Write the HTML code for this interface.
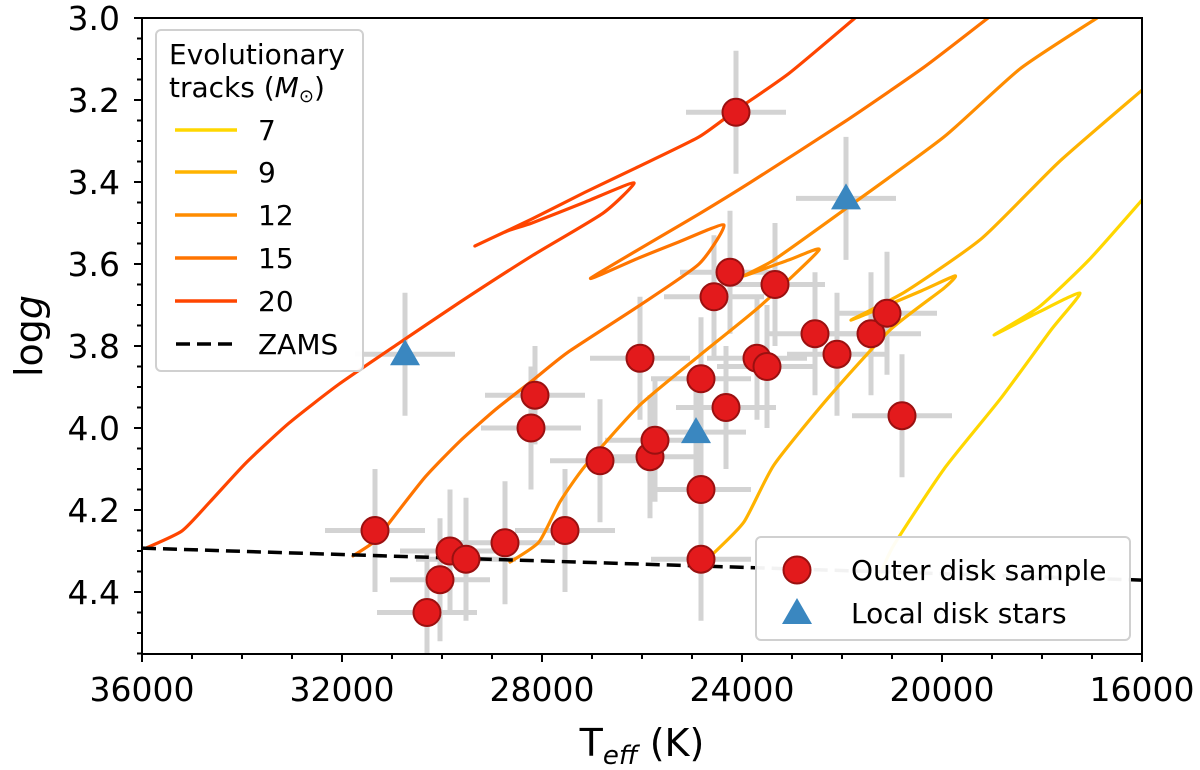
<!DOCTYPE html>
<html><head><meta charset="utf-8"><style>
body{margin:0;background:#fff;}
svg text{font-family:"DejaVu Sans","Liberation Sans",sans-serif;}
</style></head><body>
<svg id="chart" width="1200" height="765" xmlns="http://www.w3.org/2000/svg"></svg>
<script>
// ---- data ----
const xTicks = [36000, 32000, 28000, 24000, 20000, 16000];
const yTicks = [3.0, 3.2, 3.4, 3.6, 3.8, 4.0, 4.2, 4.4];
const trackMasses = ["7", "9", "12", "15", "20"];
const trackColors = ["#ffd700", "#ffb300", "#ff8c00", "#ff7400", "#ff4500"];
const track7T = [21260,20960,19960,18820,17820,17240,18060,18960,18060,17060,16000];
const track7G = [4.363,4.285,4.100,3.927,3.761,3.671,3.717,3.773,3.705,3.590,3.444];
const track9T = [24580,23960,23360,22280,21040,19960,19740,20460,21820,20740,19200,17660,16000];
const track9G = [4.307,4.229,4.090,3.927,3.761,3.659,3.629,3.668,3.737,3.668,3.537,3.351,3.176];
const track12T = [28640,28060,27640,27140,26060,24860,23660,22460,23060,23960,23360,21900,19960,18440,16900];
const track12G = [4.327,4.278,4.180,4.093,3.946,3.824,3.705,3.566,3.590,3.629,3.590,3.463,3.290,3.124,3.000];
const track15T = [31780,31340,31060,30340,29640,28920,28200,27480,26060,24860,24360,25260,26060,27020,24860,23820,21960,20360,19080];
const track15G = [4.312,4.276,4.232,4.120,4.032,3.954,3.885,3.815,3.702,3.600,3.505,3.546,3.585,3.634,3.478,3.400,3.254,3.120,3.000];
const track20T = [35920,35200,34640,33920,33060,32060,30920,29640,28200,26780,26160,27140,28200,28700,29340,28200,27140,26060,24860,24120,23060,21740];
const track20G = [4.293,4.251,4.180,4.085,3.988,3.893,3.798,3.693,3.580,3.476,3.402,3.449,3.500,3.520,3.556,3.490,3.425,3.362,3.290,3.225,3.135,3.000];
const zamsT = [36000, 16000];
const zamsG = [4.293, 4.371];
const outerT = [31340,30300,30040,29840,29520,28740,28140,28220,27540,26840,26040,25840,25740,24820,24820,24820,24560,24320,24240,24120,23700,23500,23340,22540,22100,21420,21100,20800];
const outerG = [4.25,4.45,4.37,4.30,4.32,4.28,3.92,4.00,4.25,4.08,3.83,4.07,4.03,3.88,4.15,4.32,3.68,3.95,3.62,3.23,3.83,3.85,3.65,3.77,3.82,3.77,3.72,3.97];
const outerTerr = [1000,1000,1000,1000,1000,1000,1000,1000,1000,1000,1000,1000,1000,1000,1000,1000,1000,1000,1000,1000,1000,1000,1000,1000,1000,1000,1000,1000];
const outerGerr = [0.15,0.15,0.15,0.15,0.15,0.15,0.12,0.15,0.15,0.15,0.15,0.15,0.15,0.15,0.15,0.15,0.15,0.15,0.15,0.15,0.15,0.15,0.15,0.15,0.15,0.15,0.15,0.15];
const localT = [30740, 24920, 21920];
const localG = [3.82, 4.01, 3.44];
const localTerr = [1000, 1000, 1000];
const localGerr = [0.15, 0.15, 0.15];

// ---- axes ----
const L=142, R=1142, T=18, B=654;
const X0=36000, X1=16000, Y0=3.0, Y1=4.5512;
const sx = v => L + (X0 - v) / (X0 - X1) * (R - L);
const sy = v => T + (v - Y0) / (Y1 - Y0) * (B - T);
const NS="http://www.w3.org/2000/svg";
const svg=document.getElementById('chart');
function mk(tag, attrs, parent){const e=document.createElementNS(NS,tag);for(const k in attrs)e.setAttribute(k,attrs[k]);(parent||svg).appendChild(e);return e;}

const clip=mk('clipPath',{id:'pc'});mk('rect',{x:L,y:T,width:R-L,height:B-T},clip);
const plot=mk('g',{'clip-path':'url(#pc)'});



function errbars(Ts,Gs,Te,Ge,name){
  for(let i=0;i<Ts.length;i++){
    const g=mk('g',{},plot);
    
    
    mk('line',{x1:sx(Ts[i]-Te[i]),x2:sx(Ts[i]+Te[i]),y1:sy(Gs[i]),y2:sy(Gs[i]),stroke:'#d3d3d3','stroke-width':5},g);
    mk('line',{x1:sx(Ts[i]),x2:sx(Ts[i]),y1:sy(Gs[i]-Ge[i]),y2:sy(Gs[i]+Ge[i]),stroke:'#d3d3d3','stroke-width':5},g);
  }
}
errbars(outerT,outerG,outerTerr,outerGerr,'outer-disk');
errbars(localT,localG,localTerr,localGerr,'local-disk');

const tracksT=[track7T,track9T,track12T,track15T,track20T];
const tracksG=[track7G,track9G,track12G,track15G,track20G];
function smoothPath(pts){
  let d=`M${pts[0][0]},${pts[0][1]}`;
  const f=10;
  for(let i=0;i<pts.length-1;i++){
    const p0=pts[Math.max(0,i-1)],p1=pts[i],p2=pts[i+1],p3=pts[Math.min(pts.length-1,i+2)];
    const c1=[p1[0]+(p2[0]-p0[0])/f,p1[1]+(p2[1]-p0[1])/f];
    const c2=[p2[0]-(p3[0]-p1[0])/f,p2[1]-(p3[1]-p1[1])/f];
    d+=` C${c1[0]},${c1[1]} ${c2[0]},${c2[1]} ${p2[0]},${p2[1]}`;
  }
  return d;
}
for(let k=0;k<tracksT.length;k++){
  const pts=tracksT[k].map((t,i)=>[sx(t),sy(tracksG[k][i])]);
  const p=mk('path',{d:smoothPath(pts),fill:'none',stroke:trackColors[k],'stroke-width':3.2,'stroke-linejoin':'round','stroke-linecap':'round'},plot);
  
  
}
const z=mk('line',{x1:sx(zamsT[0]),y1:sy(zamsG[0]),x2:sx(zamsT[1]),y2:sy(zamsG[1]),stroke:'#000','stroke-width':3.5,'stroke-dasharray':'14,7'},plot);



for(let i=0;i<outerT.length;i++){
  const c=mk('circle',{cx:sx(outerT[i]),cy:sy(outerG[i]),r:13.5,fill:'#e31a1c',stroke:'#9a1010','stroke-width':2},plot);
  
  
}
for(let i=0;i<localT.length;i++){
  const x=sx(localT[i]),y=sy(localG[i]);
  const t=mk('polygon',{points:`${x},${y-15} ${x-15},${y+11} ${x+15},${y+11}`,fill:'#3a87c0'},plot);
  
  
}

const fr=mk('rect',{x:L,y:T,width:R-L,height:B-T,fill:'none',stroke:'#000','stroke-width':2});


for(let v=16000;v<=36000;v+=1000){
  const major=(v%4000===0);
  mk('line',{x1:sx(v),x2:sx(v),y1:B,y2:B+(major?8:5),stroke:'#000','stroke-width':2});
}
xTicks.forEach(v=>{
  const t=mk('text',{x:sx(v),y:B+47,'font-size':33,'text-anchor':'middle'});
  t.textContent=v;
  
  
});
for(let i=0;i<=31;i++){
  const v=3.0+i*0.05; if(v>Y1)break;
  const major=(i%4===0);
  mk('line',{x1:L,x2:L-(major?8:5),y1:sy(v),y2:sy(v),stroke:'#000','stroke-width':2});
}
yTicks.forEach(v=>{
  const t=mk('text',{x:L-22,y:sy(v)+12,'font-size':33,'text-anchor':'end'});
  t.textContent=v.toFixed(1);
  
  
});
const xl=mk('text',{x:642,y:756,'font-size':38,'text-anchor':'middle'});
xl.innerHTML='T<tspan font-size="26" dy="8" font-style="italic">eff</tspan><tspan dy="-8"> (K)</tspan>';


const yl=mk('text',{x:0,y:0,'font-size':38,'text-anchor':'middle',transform:'translate(42,336) rotate(-90)'});
yl.innerHTML='log<tspan font-style="italic">g</tspan>';



const lg=mk('g',{});


mk('rect',{x:156,y:30,width:207,height:341,rx:5,fill:'#fff','fill-opacity':0.95,stroke:'#d0d0d0','stroke-width':2},lg);
const t1=mk('text',{x:169,y:64,'font-size':28},lg);t1.textContent='Evolutionary';
const t2=mk('text',{x:169,y:97,'font-size':28},lg);t2.innerHTML='tracks (<tspan font-style="italic">M</tspan><tspan font-size="18" dy="5">⊙</tspan><tspan dy="-5">)</tspan>';
const ly=[130,172,215,258,301];
for(let k=0;k<5;k++){
  const e=mk('g',{},lg);
  
  
  mk('line',{x1:175,x2:237,y1:ly[k],y2:ly[k],stroke:trackColors[k],'stroke-width':3.5},e);
  const tt=mk('text',{x:258,y:ly[k]+10,'font-size':28},e);tt.textContent=trackMasses[k];
}
const ez=mk('g',{},lg);


mk('line',{x1:176,x2:237,y1:344,y2:344,stroke:'#000','stroke-width':3.5,'stroke-dasharray':'14,7'},ez);
const tz=mk('text',{x:258,y:354,'font-size':28},ez);tz.textContent='ZAMS';

const lg2=mk('g',{});


mk('rect',{x:756,y:537,width:374,height:103,rx:5,fill:'#fff','fill-opacity':0.95,stroke:'#d0d0d0','stroke-width':2},lg2);
mk('circle',{cx:797,cy:570,r:13.5,fill:'#e31a1c',stroke:'#9a1010','stroke-width':2},lg2);
const o=mk('text',{x:851,y:580,'font-size':28},lg2);o.textContent='Outer disk sample';
mk('polygon',{points:'797,598 782,624 812,624',fill:'#3a87c0'},lg2);
const l2=mk('text',{x:851,y:623,'font-size':28},lg2);l2.textContent='Local disk stars';
</script>
</body></html>
